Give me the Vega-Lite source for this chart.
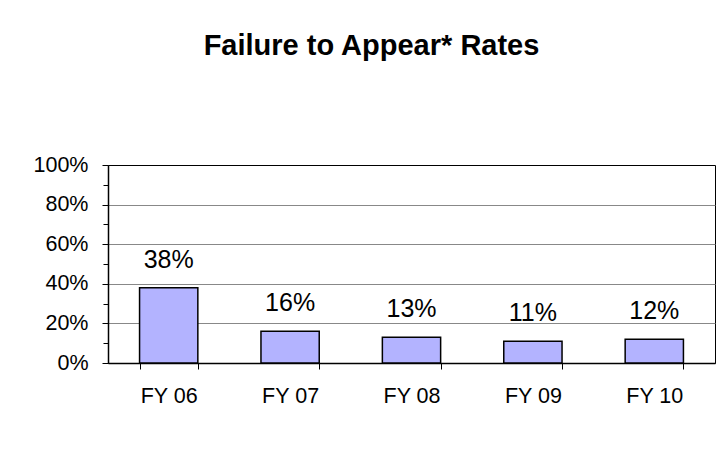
{
  "$schema": "https://vega.github.io/schema/vega-lite/v6.json",
  "width": 607,
  "height": 198,
  "autosize": "none",
  "padding": {"left": 108, "top": 165, "right": 8, "bottom": 103},
  "background": "white",
  "title": {
    "text": "Failure to Appear* Rates",
    "font": "Liberation Sans",
    "fontSize": 29,
    "fontWeight": "bold",
    "color": "black",
    "anchor": "middle",
    "frame": "group",
    "baseline": "alphabetic",
    "dx": -40,
    "offset": 70
  },
  "config": {
    "view": {"stroke": "black", "strokeWidth": 1},
    "axis": {"labelFont": "Liberation Sans", "labelColor": "black", "domainColor": "black", "tickColor": "black"}
  },
  "data": {
    "values": [
      {"year": "FY 06", "rate": 0.38},
      {"year": "FY 07", "rate": 0.16},
      {"year": "FY 08", "rate": 0.13},
      {"year": "FY 09", "rate": 0.11},
      {"year": "FY 10", "rate": 0.12}
    ]
  },
  "encoding": {
    "x": {
      "field": "year",
      "type": "nominal",
      "sort": null,
      "scale": {"paddingInner": 0.52, "paddingOuter": 0.26},
      "axis": {
        "title": null,
        "labelAngle": 0,
        "labelFontSize": 21.5,
        "labelPadding": 16,
        "tickBand": "extent",
        "tickSize": 6,
        "domainWidth": 1.5,
        "tickWidth": 1
      }
    },
    "y": {
      "field": "rate",
      "type": "quantitative",
      "scale": {"domain": [0, 1]},
      "axis": {
        "title": null,
        "values": [0, 0.1, 0.2, 0.3, 0.4, 0.5, 0.6, 0.7, 0.8, 0.9, 1],
        "format": ".0%",
        "labelExpr": "round(datum.value * 10) % 2 === 0 ? datum.label : ''",
        "labelFontSize": 21.5,
        "labelPadding": 14,
        "tickSize": {"condition": {"test": "round(datum.value * 10) % 2 === 0", "value": 6}, "value": 5},
        "domainWidth": 1.5,
        "grid": true,
        "gridColor": "#888888",
        "gridOpacity": {"condition": {"test": "datum.value > 0.05 && datum.value < 0.95 && round(datum.value * 10) % 2 === 0", "value": 1}, "value": 0}
      }
    }
  },
  "layer": [
    {
      "mark": {"type": "bar", "fill": "#b3b3ff", "stroke": "black", "strokeWidth": 1.5}
    },
    {
      "mark": {"type": "text", "baseline": "alphabetic", "dy": -20, "font": "Liberation Sans", "fontSize": 25, "color": "black"},
      "encoding": {"text": {"field": "rate", "format": ".0%"}}
    }
  ]
}
